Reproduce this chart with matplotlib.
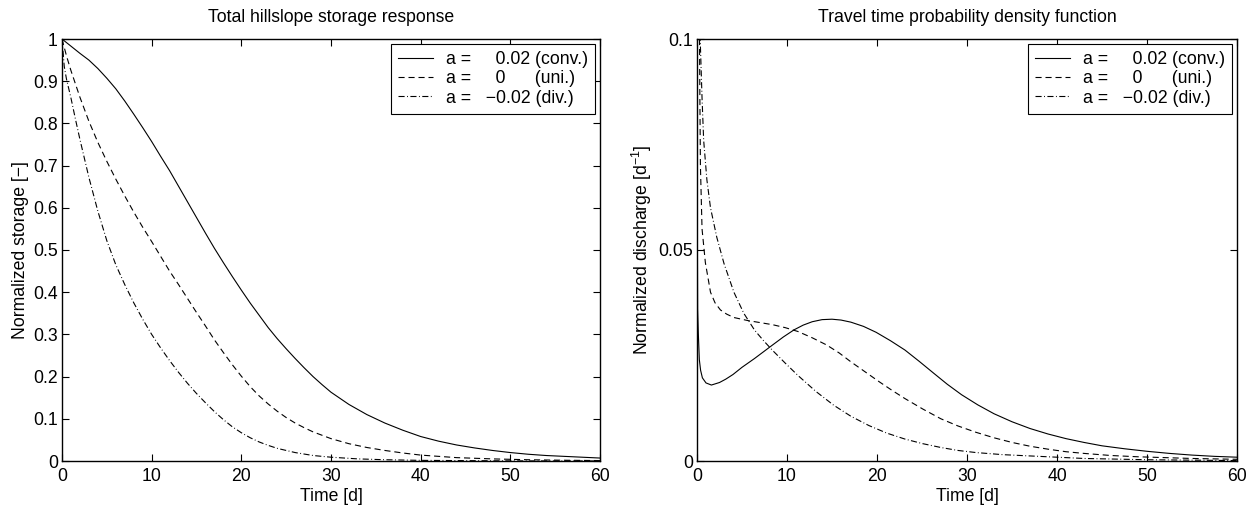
import matplotlib
matplotlib.use("Agg")
import matplotlib.pyplot as plt
from matplotlib.ticker import FormatStrFormatter

plt.rcParams['font.family'] = ['Liberation Sans', 'DejaVu Sans']
plt.rcParams['font.size'] = 12.7

# storage response
t_s_conv = [0, 1, 2, 3, 4, 5, 6, 7, 8, 9, 10, 11, 12, 13, 14, 15, 16, 17, 18, 19, 20, 21, 22, 23,
            24, 25, 26, 27, 28, 29, 30, 32, 34, 36, 38, 40, 42, 44, 46, 48, 50, 52, 54, 56, 58, 60]
s_conv = [1.0, 0.983, 0.966, 0.95, 0.93, 0.907, 0.882, 0.853, 0.822, 0.79, 0.757, 0.722, 0.688,
          0.651, 0.614, 0.577, 0.54, 0.504, 0.47, 0.437, 0.405, 0.374, 0.345, 0.316, 0.29, 0.266,
          0.243, 0.221, 0.2, 0.181, 0.163, 0.134, 0.11, 0.09, 0.073, 0.058, 0.047, 0.038, 0.031,
          0.025, 0.02, 0.016, 0.013, 0.011, 0.009, 0.007]

t_s_uni = [0, 0.5, 1, 2, 3, 4, 5, 6, 7, 8, 9, 10, 11, 12, 13, 14, 15, 16, 17, 18, 19, 20, 21, 22,
           23, 24, 25, 26, 27, 28, 29, 30, 32, 34, 36, 38, 40, 44, 48, 52, 56, 60]
s_uni = [1.0, 0.96, 0.925, 0.862, 0.805, 0.755, 0.71, 0.668, 0.628, 0.59, 0.554, 0.52, 0.485,
         0.45, 0.418, 0.385, 0.352, 0.32, 0.287, 0.257, 0.228, 0.201, 0.176, 0.154, 0.135, 0.118,
         0.103, 0.09, 0.079, 0.069, 0.061, 0.053, 0.041, 0.032, 0.025, 0.019, 0.014, 0.008, 0.005,
         0.003, 0.0018, 0.001]

t_s_div = [0, 0.25, 0.5, 1, 1.5, 2, 3, 4, 5, 6, 7, 8, 9, 10, 11, 12, 13, 14, 15, 16, 17, 18, 19,
           20, 21, 22, 23, 24, 26, 28, 30, 33, 36, 40, 50, 60]
s_div = [1.0, 0.935, 0.905, 0.86, 0.81, 0.762, 0.672, 0.592, 0.522, 0.465, 0.418, 0.375, 0.336,
         0.3, 0.268, 0.238, 0.21, 0.184, 0.16, 0.138, 0.117, 0.098, 0.081, 0.067, 0.055, 0.045,
         0.037, 0.03, 0.02, 0.013, 0.009, 0.005, 0.003, 0.0015, 0.0003, 0.0001]

# travel time pdf
t_q_conv = [0, 0.03, 0.07, 0.15, 0.26, 0.4, 0.6, 1.0, 1.6, 2.5, 3.2, 4, 5, 6.4, 7.4, 8.4, 9.6,
            10.8, 11.8, 12.8, 13.9, 15, 16, 17.1, 18.5, 19.9, 21.5, 23.1, 24.7, 26.3, 27.8, 29.4,
            31.2, 33, 35, 37, 39, 41, 43, 45, 47.5, 50, 52.5, 55, 57.5, 60]
q_conv = [0.15, 0.06, 0.036, 0.03, 0.024, 0.0215, 0.0197, 0.0185, 0.018, 0.0186, 0.0194, 0.0205,
          0.0222, 0.0243, 0.0259, 0.0275, 0.0294, 0.0311, 0.0322, 0.033, 0.0335, 0.0336, 0.0334,
          0.0329, 0.0319, 0.0305, 0.0285, 0.0263, 0.0236, 0.0208, 0.0182, 0.0157, 0.0133, 0.0112,
          0.0093, 0.0077, 0.0064, 0.0053, 0.0044, 0.0036, 0.0029, 0.0023, 0.0018, 0.0014, 0.0011,
          0.0009]

t_q_uni = [0.2, 0.28, 0.32, 0.38, 0.56, 0.93, 1.5, 2, 2.6, 3.3, 4.1, 5.6, 7, 8.4, 9.8, 11.2, 12.8,
           14.4, 15.8, 17.1, 18.7, 20.3, 21.7, 23.1, 25.1, 27.1, 29, 31, 33, 35, 37, 39, 41, 43, 46,
           49, 52, 55, 60]
q_uni = [0.14, 0.1, 0.086, 0.07, 0.055, 0.047, 0.04, 0.0375, 0.0358, 0.0348, 0.034, 0.0333,
         0.0328, 0.0323, 0.0316, 0.0307, 0.0292, 0.0275, 0.0256, 0.0235, 0.0211, 0.0187, 0.0167,
         0.0148, 0.0123, 0.01, 0.0083, 0.0068, 0.0055, 0.0044, 0.0035, 0.0028, 0.0022, 0.0018,
         0.0013, 0.001, 0.0008, 0.0006, 0.0004]

t_q_div = [0.3, 0.37, 0.56, 0.74, 1.1, 1.5, 2.2, 3.0, 4.1, 5.2, 6.4, 7.4, 8.4, 9.8, 11.2, 13.2,
           15.2, 17.1, 19.1, 21.1, 23.1, 25.1, 27.1, 29, 31, 34, 37, 40, 43, 50, 60]
q_div = [0.12, 0.099, 0.086, 0.076, 0.0666, 0.06, 0.053, 0.0468, 0.04, 0.035, 0.031, 0.0285,
         0.0262, 0.0232, 0.0203, 0.0165, 0.0132, 0.0106, 0.0084, 0.0066, 0.0052, 0.0041, 0.0032,
         0.0025, 0.002, 0.0015, 0.0012, 0.0009, 0.0006, 0.0003, 0.0001]

labels = ['a =     0.02 (conv.)', 'a =     0      (uni.)', 'a =   \u22120.02 (div.)']
dash = (0, (5.5, 3.5))
dashdot = (0, (5.5, 2.2, 0.8, 2.2))

W, H = 1246, 508
fig = plt.figure(figsize=(W / 100, H / 100), dpi=100)
ax1 = fig.add_axes([62 / W, (H - 461) / H, 538 / W, 422 / H])
ax2 = fig.add_axes([697 / W, (H - 461) / H, 540 / W, 422 / H])

lw = 0.8
ax1.plot(t_s_conv, s_conv, color='k', lw=lw, label=labels[0])
ax1.plot(t_s_uni, s_uni, color='k', lw=lw, linestyle=dash, label=labels[1])
ax1.plot(t_s_div, s_div, color='k', lw=lw, linestyle=dashdot, label=labels[2])

ax2.plot(t_q_conv, q_conv, color='k', lw=lw, label=labels[0])
ax2.plot(t_q_uni, q_uni, color='k', lw=lw, linestyle=dash, label=labels[1])
ax2.plot(t_q_div, q_div, color='k', lw=lw, linestyle=dashdot, label=labels[2])

ax1.set_xlim(0, 60)
ax1.set_ylim(0, 1)
ax1.set_yticks([i / 10 for i in range(11)])
ax2.set_xlim(0, 60)
ax2.set_ylim(0, 0.1)
ax2.set_yticks([0, 0.05, 0.1])

ax1.set_title('Total hillslope storage response', fontsize=12.7, pad=12)
ax2.set_title('Travel time probability density function', fontsize=12.7, pad=12)
ax1.set_ylabel('Normalized storage [\u2212]', labelpad=3)
ax2.set_ylabel(r'Normalized discharge [$\mathregular{d^{-1}}$]', labelpad=3)

for ax in (ax1, ax2):
    ax.set_xticks(range(0, 61, 10))
    ax.set_xlabel('Time [d]', labelpad=2)
    ax.yaxis.set_major_formatter(FormatStrFormatter('%g'))
    ax.tick_params(direction='in', top=True, right=True, length=5, width=0.8, labelsize=12.7)
    ax.tick_params(axis='x', pad=5)
    ax.tick_params(axis='y', pad=3)
    for sp in ax.spines.values():
        sp.set_linewidth(1.0)
    leg = ax.legend(loc='upper right', fancybox=False, framealpha=1, edgecolor='k',
                    borderaxespad=0.3, borderpad=0.4, labelspacing=0.12, handlelength=2.0,
                    handletextpad=0.7, fontsize=12.7)
    leg.get_frame().set_linewidth(0.8)

fig.savefig('out.png', dpi=100)
